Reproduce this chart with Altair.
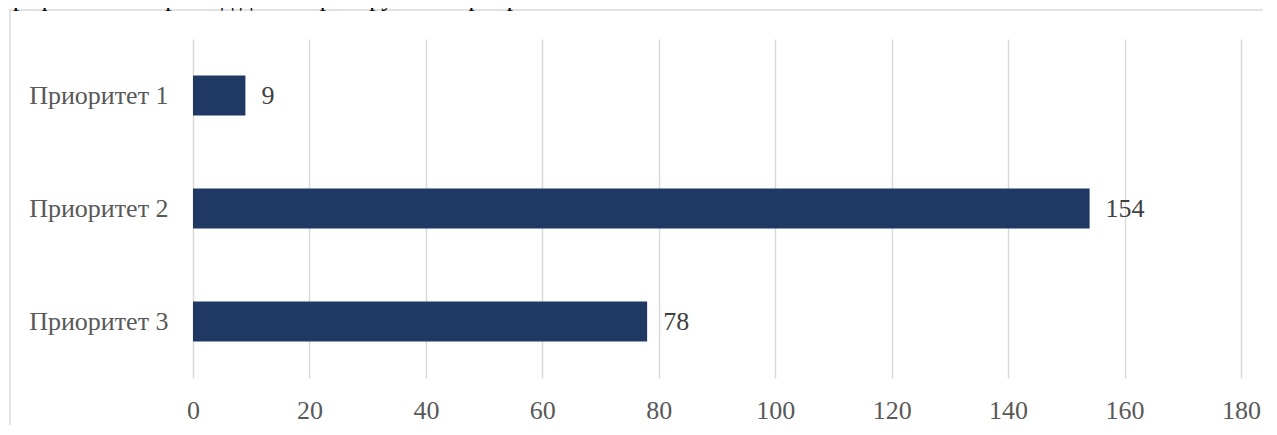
import altair as alt
import pandas as pd

categories = ["Приоритет 1", "Приоритет 2", "Приоритет 3"]
values = [9, 154, 78]
x_ticks = [0, 20, 40, 60, 80, 100, 120, 140, 160, 180]
title_text = "Графикон 30: Преглед датих препорука по приоритетима"

df = pd.DataFrame({"cat": categories, "val": values})

FONT = "Liberation Serif"

y_enc = alt.Y(
    "cat:N",
    sort=categories,
    scale=alt.Scale(paddingInner=0.646, paddingOuter=0.323),
    axis=alt.Axis(
        title=None, domain=False, ticks=False, tickSize=0,
        labelFont=FONT, labelFontSize=26, labelColor="#595959",
        labelPadding=25, grid=False,
    ),
)
x_enc = alt.X(
    "val:Q",
    scale=alt.Scale(domain=[0, 180], nice=False),
    axis=alt.Axis(
        title=None, values=x_ticks, domain=False, ticks=False, tickSize=0,
        grid=True, gridColor="#d9d9d9", gridWidth=1.5,
        labelFont=FONT, labelFontSize=26, labelColor="#595959",
        labelPadding=19, labelFlush=False, labelOverlap=False,
    ),
)

bars = alt.Chart(df).mark_bar(color="#1F3864").encode(x=x_enc, y=y_enc)

labels = alt.Chart(df).mark_text(
    align="left", baseline="middle", dx=16, font=FONT, fontSize=26, color="#404040"
).encode(x="val:Q", y=alt.Y("cat:N", sort=categories), text="val:Q")

border = alt.Chart(alt.Data(values=[{"a": 1}])).mark_rect(
    fill="transparent", stroke="#d9d9d9", strokeWidth=1.5
).encode(
    x=alt.value(-183), x2=alt.value(1300), y=alt.value(-29), y2=alt.value(500)
)

title = alt.Chart(alt.Data(values=[{"t": title_text}])).mark_text(
    align="left", baseline="alphabetic", font=FONT, fontSize=25, color="#000000"
).encode(x=alt.value(-193), y=alt.value(-33), text="t:N")

chart = alt.layer(border, bars, labels, title).properties(
    width=1048,
    height=339,
    autosize=alt.AutoSizeParams(type="none"),
    padding={"left": 185, "top": 31, "right": 22, "bottom": 47},
    background="white",
).configure_view(strokeWidth=0)

chart.save("out.html", embed_options={"renderer": "svg", "actions": False})
